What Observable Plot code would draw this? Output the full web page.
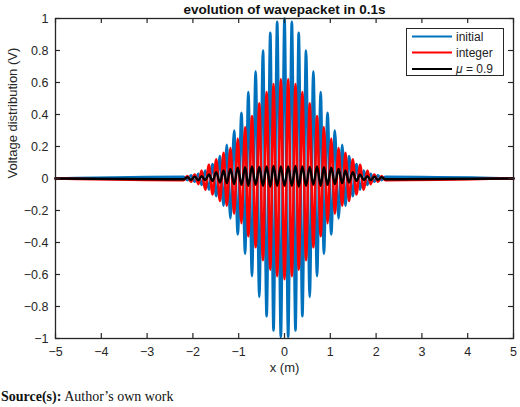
<!DOCTYPE html>
<html>
<head>
<meta charset="utf-8">
<script src="https://cdn.jsdelivr.net/npm/d3@7"></script>
<script src="https://cdn.jsdelivr.net/npm/@observablehq/plot@0.6"></script>
<style>
  html, body { margin: 0; padding: 0; background: white; }
  #wrap { position: relative; width: 520px; height: 407px; overflow: hidden; }
  #legend { position: absolute; left: 406px; top: 28px; width: 98px; height: 48px;
            box-sizing: border-box; border: 1px solid #262626; background: white; }
  #legend svg { display: block; }
  #cap { font-family: "Liberation Serif", "Times New Roman", serif; font-size: 14px;
         line-height: 17px; padding: 6px 0 0 1px; color: #111; }
</style>
</head>
<body>
<div id="wrap">
  <div id="chart"></div>
  <div id="legend"></div>
  <div id="cap"><b>Source(s):</b> Author’s own work</div>
</div>
<script>
// ---- data ----
const titleText = "evolution of wavepacket in 0.1s";
const xLabel = "x (m)";
const yLabel = "Voltage distribution (V)";
const seriesNames = ["initial", "integer", "μ = 0.9"];
const seriesColors = ["#0072BD", "#FF0000", "#000000"];

const xTicks = [-5, -4, -3, -2, -1, 0, 1, 2, 3, 4, 5];
const yTicks = [-1, -0.8, -0.6, -0.4, -0.2, 0, 0.2, 0.4, 0.6, 0.8, 1];

// x positions of the oscillation extrema (m)
const xPos = [-5,
  -2.20, -2.12, -2.04, -1.96, -1.88, -1.81, -1.73, -1.65, -1.57, -1.49,
  -1.41, -1.33, -1.26, -1.18, -1.10, -1.02, -0.94, -0.86, -0.79, -0.71,
  -0.63, -0.55, -0.47, -0.39, -0.31, -0.24, -0.16, -0.08,
  0,
  0.08, 0.16, 0.24, 0.31, 0.39, 0.47, 0.55, 0.63, 0.71, 0.79,
  0.86, 0.94, 1.02, 1.10, 1.18, 1.26, 1.33, 1.41, 1.49, 1.57,
  1.65, 1.73, 1.81, 1.88, 1.96, 2.04, 2.12, 2.20,
  5];

// initial wavepacket extrema (V)
const initialV = [0,
  0.01, -0.01, 0.02, -0.02, 0.03, -0.04, 0.05, -0.07, 0.09, -0.11,
  0.14, -0.17, 0.21, -0.25, 0.30, -0.35, 0.41, -0.47, 0.54, -0.61,
  0.67, -0.74, 0.80, -0.86, 0.91, -0.95, 0.98, -0.99,
  1.00,
  -0.99, 0.98, -0.95, 0.91, -0.86, 0.80, -0.74, 0.67, -0.61, 0.54,
  -0.47, 0.41, -0.35, 0.30, -0.25, 0.21, -0.17, 0.14, -0.11, 0.09,
  -0.07, 0.05, -0.04, 0.03, -0.02, 0.02, -0.01, 0.01,
  0];

// integer-order result extrema (V)
const integerV = [0,
  -0.01, 0.015, -0.02, 0.025, -0.035, 0.05, -0.07, 0.085, -0.10, 0.12,
  -0.14, 0.16, -0.17, 0.19, -0.22, 0.25, -0.28, 0.32, -0.36, 0.39,
  -0.43, 0.47, -0.51, 0.54, -0.57, 0.59, -0.61, 0.62,
  -0.63,
  0.62, -0.61, 0.59, -0.57, 0.54, -0.51, 0.47, -0.43, 0.39, -0.36,
  0.32, -0.28, 0.25, -0.22, 0.19, -0.17, 0.16, -0.14, 0.12, -0.10,
  0.085, -0.07, 0.05, -0.035, 0.025, -0.02, 0.015, -0.01,
  0];

// fractional-order (mu = 0.9) result extrema (V)
const fractionalV = [0,
  -0.005, 0.008, -0.008, 0.012, -0.01, 0.015, -0.01, 0.025, -0.015, 0.04,
  -0.025, 0.05, -0.03, 0.06, -0.035, 0.068, -0.04, 0.07, -0.045, 0.075,
  -0.04, 0.072, -0.045, 0.075, -0.05, 0.078, -0.045, 0.075,
  -0.045,
  0.075, -0.045, 0.078, -0.05, 0.075, -0.045, 0.072, -0.04, 0.075, -0.045,
  0.07, -0.04, 0.068, -0.035, 0.06, -0.03, 0.05, -0.025, 0.04, -0.015,
  0.025, -0.01, 0.015, -0.01, 0.012, -0.008, 0.008, -0.005,
  0];

// ---- build ----
const rows = xPos.map((x, i) => ({x, initial: initialV[i], integer: integerV[i], frac: fractionalV[i]}));
const fmt = d3.format("~g");
const axisColor = "#262626";

const chart = Plot.plot({
  width: 520,
  height: 382,
  marginLeft: 55,
  marginRight: 7,
  marginTop: 18,
  marginBottom: 44,
  x: {domain: [-5, 5]},
  y: {domain: [-1, 1]},
  style: {fontFamily: "'Liberation Sans', Arial, sans-serif", fontSize: "12.5px", color: axisColor, background: "white", overflow: "visible"},
  marks: [
    Plot.line(rows, {x: "x", y: "initial", stroke: seriesColors[0], strokeWidth: 2.6, curve: "monotone-x"}),
    Plot.line(rows, {x: "x", y: "integer", stroke: seriesColors[1], strokeWidth: 2.6, curve: "monotone-x"}),
    Plot.line(rows, {x: "x", y: "frac", stroke: seriesColors[2], strokeWidth: 2.4, curve: "monotone-x"}),
    Plot.frame({stroke: axisColor, strokeWidth: 1.3}),
    Plot.tickX(xTicks, {x: d => d, insetTop: 315, stroke: axisColor, strokeWidth: 1.2}),
    Plot.tickX(xTicks, {x: d => d, insetBottom: 315, stroke: axisColor, strokeWidth: 1.2}),
    Plot.tickY(yTicks, {y: d => d, insetRight: 453, stroke: axisColor, strokeWidth: 1.2}),
    Plot.tickY(yTicks, {y: d => d, insetLeft: 453, stroke: axisColor, strokeWidth: 1.2}),
    Plot.axisX(xTicks, {tickSize: 0, tickPadding: 9, tickFormat: fmt, label: null}),
    Plot.axisY(yTicks, {tickSize: 0, tickPadding: 7, tickFormat: fmt, label: null}),
    Plot.text([titleText], {frameAnchor: "top", dy: -10, lineAnchor: "bottom", fontWeight: "bold", fontSize: 13.5, fill: "#111", dy: -5}),
    Plot.text([xLabel], {frameAnchor: "bottom", dy: 33, fontSize: 13, fill: axisColor}),
    Plot.text([yLabel], {frameAnchor: "left", dx: -43, rotate: -90, fontSize: 13, fill: axisColor})
  ]
});
document.getElementById("chart").appendChild(chart);

// legend
const lg = d3.select("#legend").append("svg").attr("width", 96).attr("height", 46)
  .style("font-family", "'Liberation Sans', Arial, sans-serif").style("font-size", "12px");
const rowsY = [7.5, 23.5, 40];
seriesNames.forEach((name, i) => {
  lg.append("line").attr("x1", 5).attr("x2", 45).attr("y1", rowsY[i]).attr("y2", rowsY[i])
    .attr("stroke", seriesColors[i]).attr("stroke-width", 2);
  const t = lg.append("text").attr("x", 49).attr("y", rowsY[i] + 4).attr("fill", "#222");
  if (name.startsWith("μ")) {
    t.append("tspan").attr("font-style", "italic").text("μ");
    t.append("tspan").text(name.slice(1));
  } else {
    t.text(name);
  }
});
</script>
</body>
</html>
